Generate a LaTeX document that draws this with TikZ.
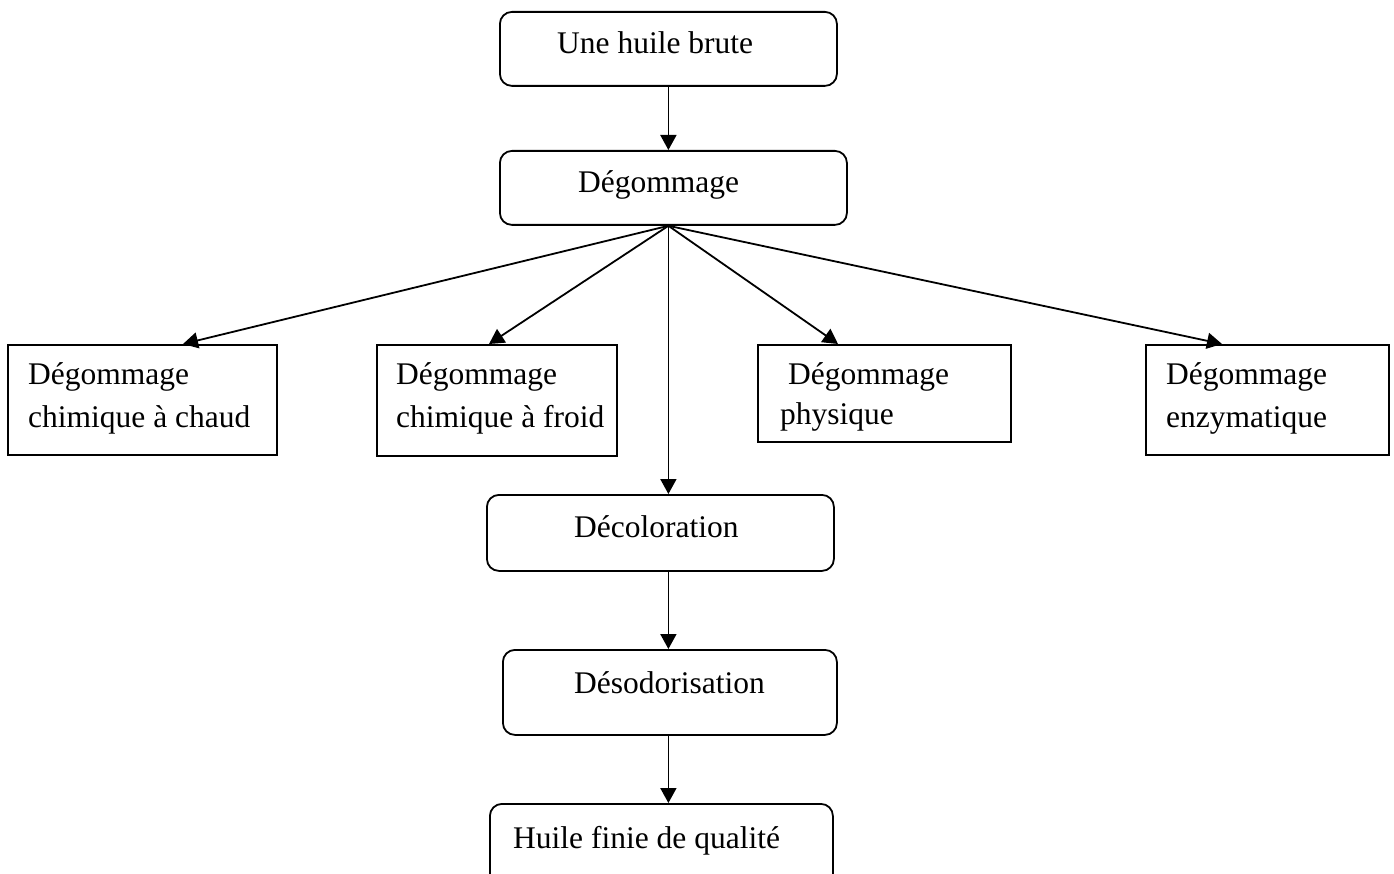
\documentclass[tikz,border=0pt]{standalone}
\usepackage{fontspec}
\setmainfont{Liberation Serif}
\usetikzlibrary{arrows.meta}
\begin{document}
\begin{tikzpicture}[x=1pt,y=-1pt,
  rbox/.style={draw,line width=1.8pt,rounded corners=12pt,inner sep=0pt,anchor=north west},
  sbox/.style={draw,line width=1.8pt,inner sep=0pt,anchor=north west},
  txt/.style={inner sep=0pt,anchor=base west,font=\fontsize{31.5}{38}\selectfont},
  arr/.style={line width=1.8pt,-{Triangle[length=15pt,width=16pt]}}]
\useasboundingbox (0,0) rectangle (1394,874);
% rounded boxes
\node[rbox,minimum width=337pt,minimum height=74pt] (brute) at (499,11) {};
\node[txt] (tbrute) at (557,54) {Une huile brute};
\node[rbox,minimum width=347pt,minimum height=74pt] (degom) at (499,150) {};
\node[txt] (tdegom) at (578,193) {Dégommage};
\node[rbox,minimum width=347pt,minimum height=76pt] (decol) at (486,494) {};
\node[txt] (tdecol) at (574,537) {Décoloration};
\node[rbox,minimum width=334pt,minimum height=85pt] (desod) at (502,649) {};
\node[txt] (tdesod) at (574,693) {Désodorisation};
\node[rbox,minimum width=343pt,minimum height=100pt] (finie) at (489,803) {};
\node[txt] (tfinie) at (513,848) {Huile finie de qualité};
% square boxes
\node[sbox,minimum width=269pt,minimum height=110pt] (chaud) at (7,344) {};
\node[txt] (tchaud1) at (28,384) {Dégommage};
\node[txt] (tchaud2) at (28,427) {chimique à chaud};
\node[sbox,minimum width=240pt,minimum height=111pt] (froid) at (376,344) {};
\node[txt] (tfroid1) at (396,384) {Dégommage};
\node[txt] (tfroid2) at (396,427) {chimique à froid};
\node[sbox,minimum width=253pt,minimum height=97pt] (phys) at (757,344) {};
\node[txt] (tphys1) at (788,384) {Dégommage};
\node[txt] (tphys2) at (780,424) {physique};
\node[sbox,minimum width=243pt,minimum height=110pt] (enz) at (1145,344) {};
\node[txt] (tenz1) at (1166,384) {Dégommage};
\node[txt] (tenz2) at (1166,427) {enzymatique};
% connectors
\coordinate (fan) at ([xshift=-5pt]degom.south);
\draw[arr] (fan |- brute.south) -- (fan |- degom.north);
\draw[arr] (fan) -- ([xshift=183pt-7pt]chaud.north west);
\draw[arr] (fan) -- ([xshift=489pt-376pt]froid.north west);
\draw[arr] (fan) -- ([xshift=838pt-757pt]phys.north west);
\draw[arr] (fan) -- ([xshift=1222pt-1145pt]enz.north west);
\draw[arr] (fan) -- (fan |- decol.north);
\draw[arr] (fan |- decol.south) -- (fan |- desod.north);
\draw[arr] (fan |- desod.south) -- (fan |- finie.north);
\end{tikzpicture}
\end{document}
